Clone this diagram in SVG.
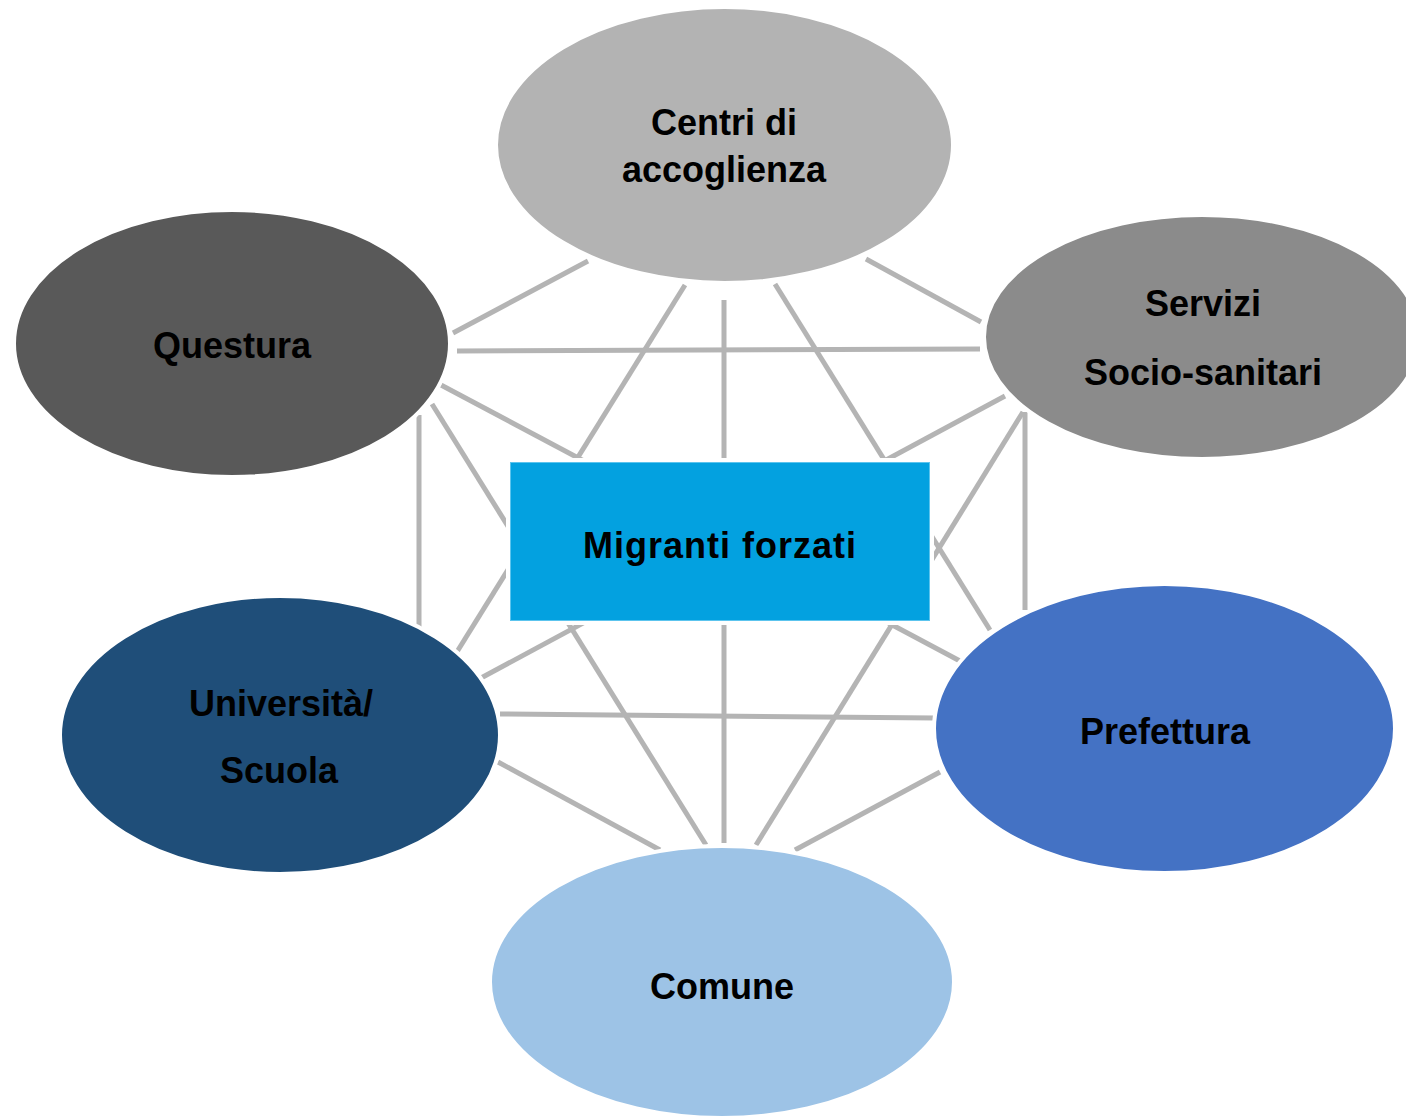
<svg xmlns="http://www.w3.org/2000/svg" width="1406" height="1116" viewBox="0 0 1406 1116">
<style>
.c{stroke:#B4B4B4;stroke-width:5;fill:none}
.n{stroke:#FFFFFF;stroke-width:4}
.t{font-family:"Liberation Sans",Arial,sans-serif;font-weight:bold;font-size:36px;fill:#000000;text-anchor:middle}
</style>
<rect x="0" y="0" width="1406" height="1116" fill="#FFFFFF"/>
<g id="connectors">
<line class="c" x1="588" y1="261" x2="453" y2="333"/>
<line class="c" x1="866" y1="259" x2="981" y2="322"/>
<line class="c" x1="685" y1="285" x2="455" y2="655"/>
<line class="c" x1="775" y1="284" x2="990" y2="630"/>
<line class="c" x1="724" y1="300" x2="724" y2="843"/>
<line class="c" x1="457" y1="351" x2="980" y2="349"/>
<line class="c" x1="419" y1="415" x2="419" y2="628"/>
<line class="c" x1="441" y1="385" x2="960" y2="661"/>
<line class="c" x1="432" y1="404" x2="706" y2="845"/>
<line class="c" x1="1005" y1="396" x2="481" y2="678"/>
<line class="c" x1="1025" y1="412" x2="1025" y2="610"/>
<line class="c" x1="1023" y1="412" x2="756" y2="845"/>
<line class="c" x1="500" y1="714" x2="935" y2="718"/>
<line class="c" x1="498" y1="762" x2="660" y2="850"/>
<line class="c" x1="940" y1="772" x2="795" y2="850"/>
</g>
<g id="centri">
<ellipse class="n" cx="724.5" cy="145" rx="228.5" ry="138" fill="#B3B3B3"/>
<text class="t" x="724" y="135">Centri di</text>
<text class="t" x="724" y="182">accoglienza</text>
</g>
<g id="questura">
<ellipse class="n" cx="232" cy="343.5" rx="218" ry="133.5" fill="#595959"/>
<text class="t" x="232" y="358">Questura</text>
</g>
<g id="servizi">
<ellipse class="n" cx="1202" cy="337" rx="218" ry="122" fill="#8B8B8B"/>
<text class="t" x="1203" y="316">Servizi</text>
<text class="t" x="1203" y="385">Socio-sanitari</text>
</g>
<g id="universita">
<ellipse class="n" cx="280" cy="735" rx="220" ry="139" fill="#1F4E79"/>
<text class="t" x="281" y="716">Università/</text>
<text class="t" x="279" y="783">Scuola</text>
</g>
<g id="prefettura">
<ellipse class="n" cx="1164.5" cy="728.5" rx="230.5" ry="144.5" fill="#4472C4"/>
<text class="t" x="1165" y="744">Prefettura</text>
</g>
<g id="comune">
<ellipse class="n" cx="722" cy="982" rx="232" ry="136" fill="#9DC3E6"/>
<text class="t" x="722" y="999">Comune</text>
</g>
<g id="migranti">
<rect x="510" y="462" width="420" height="159" fill="#FFFFFF" stroke="#FFFFFF" stroke-width="8"/>
<rect x="510.5" y="462.5" width="419" height="158" fill="#03A1E0" stroke="#5CC4EE" stroke-width="1"/>
<text class="t" x="720" y="558" letter-spacing="1">Migranti forzati</text>
</g>
</svg>
